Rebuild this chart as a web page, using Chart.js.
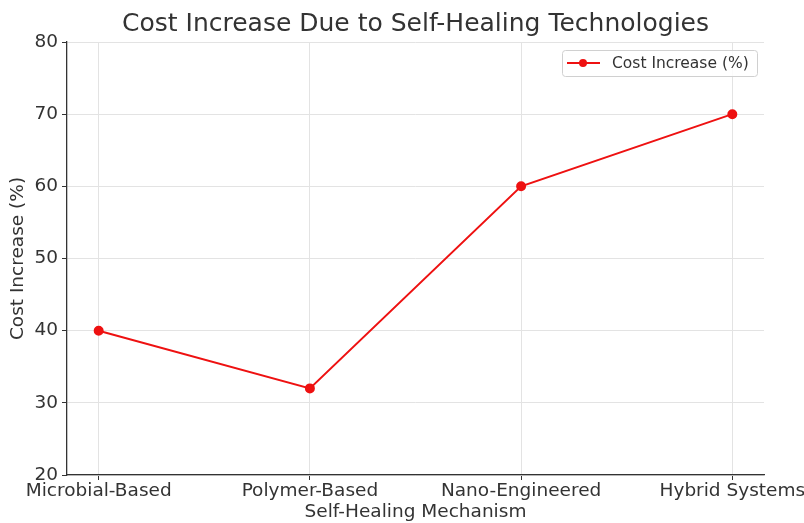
<!DOCTYPE html>
<html>
<head>
<meta charset="utf-8">
<script src="https://cdn.jsdelivr.net/npm/chart.js@4.4.0/dist/chart.umd.min.js"></script>
<style>
  body { margin: 0; background: #fff; }
  canvas { display: block; }
</style>
</head>
<body>
<canvas id="costChart" width="804" height="523"></canvas>
<script>
// Dados do gráfico
const mechanisms = ['Microbial-Based', 'Polymer-Based', 'Nano-Engineered', 'Hybrid Systems'];
const costIncrease = [40, 32, 60, 70];
const yTicks = [20, 30, 40, 50, 60, 70, 80];
const chartTitle = 'Cost Increase Due to Self-Healing Technologies';

const textColor = '#333333';
const lineColor = '#ee1111';
const fontFamily = '"DejaVu Sans", sans-serif';

// Título centralizado sobre a área do gráfico
const centeredTitle = {
    id: 'centeredTitle',
    afterDraw(chart) {
        const ctx = chart.ctx;
        const area = chart.chartArea;
        ctx.save();
        ctx.fillStyle = textColor;
        ctx.font = '25px ' + fontFamily;
        ctx.textAlign = 'center';
        ctx.textBaseline = 'middle';
        ctx.fillText(chartTitle, (area.left + area.right) / 2, 24);
        ctx.restore();
    }
};

// Legenda desenhada dentro da área do gráfico (canto superior direito)
const insideLegend = {
    id: 'insideLegend',
    afterDraw(chart) {
        const ctx = chart.ctx;
        const area = chart.chartArea;
        const w = 195, h = 26;
        const x = area.right - 7 - w;
        const y = area.top + 8;
        ctx.save();
        ctx.fillStyle = 'rgba(255,255,255,0.85)';
        ctx.strokeStyle = '#d0d0d0';
        ctx.lineWidth = 1;
        ctx.beginPath();
        ctx.roundRect(x + 0.5, y + 0.5, w, h, 3);
        ctx.fill();
        ctx.stroke();
        const cy = y + h / 2;
        ctx.strokeStyle = lineColor;
        ctx.lineWidth = 2;
        ctx.beginPath();
        ctx.moveTo(x + 5, cy);
        ctx.lineTo(x + 38, cy);
        ctx.stroke();
        ctx.fillStyle = lineColor;
        ctx.beginPath();
        ctx.arc(x + 21, cy, 4, 0, Math.PI * 2);
        ctx.fill();
        ctx.fillStyle = textColor;
        ctx.font = '15.5px ' + fontFamily;
        ctx.textBaseline = 'middle';
        ctx.fillText(chart.data.datasets[0].label, x + 50, cy + 1);
        ctx.restore();
    }
};

const ctx = document.getElementById('costChart').getContext('2d');

new Chart(ctx, {
    type: 'line',
    data: {
        datasets: [{
            label: 'Cost Increase (%)',
            data: costIncrease.map((v, i) => ({ x: i, y: v })),
            borderColor: lineColor,
            backgroundColor: lineColor,
            borderWidth: 2,
            pointRadius: 4,
            pointHoverRadius: 4,
            fill: false,
            tension: 0
        }]
    },
    options: {
        responsive: false,
        animation: false,
        layout: { padding: { left: 0, right: 40, top: 42, bottom: 0 } },
        plugins: {
            legend: { display: false },
            tooltip: { enabled: false },
            title: { display: false }
        },
        scales: {
            x: {
                type: 'linear',
                min: -0.15,
                max: 3.15,
                afterBuildTicks: scale => {
                    scale.ticks = mechanisms.map((m, i) => ({ value: i }));
                },
                afterFit: scale => {
                    scale.height = 48;
                    scale.paddingLeft = 0;
                    scale.paddingRight = 0;
                },
                ticks: {
                    color: textColor,
                    font: { family: fontFamily, size: 18.5 },
                    padding: 0,
                    maxRotation: 0,
                    autoSkip: false,
                    callback: v => mechanisms[v] ?? ''
                },
                grid: {
                    color: '#e3e3e3',
                    tickColor: '#333333',
                    tickLength: 5
                },
                border: { color: '#333333', width: 1.3 },
                title: {
                    display: true,
                    text: 'Self-Healing Mechanism',
                    color: textColor,
                    font: { family: fontFamily, size: 18.5 },
                    padding: { top: 0, bottom: 0 }
                }
            },
            y: {
                min: yTicks[0],
                max: yTicks[yTicks.length - 1],
                afterBuildTicks: scale => {
                    scale.ticks = yTicks.map(v => ({ value: v }));
                },
                afterFit: scale => {
                    scale.width = 67;
                    scale.paddingTop = 0;
                    scale.paddingBottom = 0;
                },
                ticks: {
                    color: textColor,
                    font: { family: fontFamily, size: 18.5 },
                    padding: 4
                },
                grid: {
                    color: '#e3e3e3',
                    tickColor: '#333333',
                    tickLength: 5
                },
                border: { color: '#333333', width: 1.3 },
                title: {
                    display: true,
                    text: 'Cost Increase (%)',
                    color: textColor,
                    font: { family: fontFamily, size: 18.5 },
                    padding: { top: 7, bottom: 0 }
                }
            }
        }
    },
    plugins: [centeredTitle, insideLegend]
});
</script>
</body>
</html>
